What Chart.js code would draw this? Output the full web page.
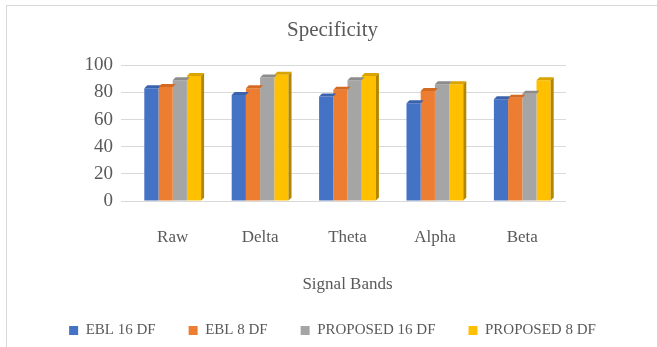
<!DOCTYPE html>
<html>
<head>
<meta charset="utf-8">
<script src="https://cdn.jsdelivr.net/npm/chart.js@4/dist/chart.umd.min.js"></script>
<style>
  html, body { margin: 0; padding: 0; background: #fff; }
  #wrap { position: absolute; left: 6px; top: 5px; width: 651px; height: 342px;
          border-left: 1px solid #d9d9d9; border-top: 1px solid #d9d9d9; }
</style>
</head>
<body>
<div id="wrap"><canvas id="bar-chart"></canvas></div>
<script>
var bands = ["Raw", "Delta", "Theta", "Alpha", "Beta"];
var ebl16 = [83, 78, 77, 72, 75];
var ebl8 = [84, 83, 82, 81, 76];
var prop16 = [89, 91, 89, 86, 79];
var prop8 = [92, 93, 92, 86, 89];
var yTicks = [0, 20, 40, 60, 80, 100];

var serif = "'Liberation Serif', 'DejaVu Serif', serif";

// fake the little 3D top / side faces from each bar element
var depthFaces = {
    id: 'depthFaces',
    afterDatasetsDraw: function (chart) {
        var c = chart.ctx;
        chart.data.datasets.forEach(function (ds, i) {
            chart.getDatasetMeta(i).data.forEach(function (bar) {
                var w = bar.width, x0 = bar.x - w / 2, x1 = bar.x + w / 2;
                var d = 3;
                c.save();
                c.fillStyle = ds.topColor;
                c.beginPath();
                c.moveTo(x0, bar.y);
                c.lineTo(x0 + d, bar.y - d);
                c.lineTo(x1 + d, bar.y - d);
                c.lineTo(x1, bar.y);
                c.fill();
                if (i === chart.data.datasets.length - 1) {
                    c.fillStyle = ds.sideColor;
                    c.beginPath();
                    c.moveTo(x1, bar.y);
                    c.lineTo(x1 + d, bar.y - d);
                    c.lineTo(x1 + d, bar.base - d);
                    c.lineTo(x1, bar.base);
                    c.fill();
                }
                c.restore();
            });
        });
    }
};

var ctx = document.getElementById("bar-chart");
var myChart = new Chart(ctx, {
    type: 'bar',
    data: {
        labels: bands,
        datasets: [{
            label: "EBL 16 DF", data: ebl16,
            backgroundColor: "#4472c4", topColor: "#3a62ad", sideColor: "#2f5597"
        }, {
            label: "EBL 8 DF", data: ebl8,
            backgroundColor: "#ed7d31", topColor: "#d46a22", sideColor: "#b85c1f"
        }, {
            label: "PROPOSED 16 DF", data: prop16,
            backgroundColor: "#a5a5a5", topColor: "#8c8c8c", sideColor: "#7f7f7f"
        }, {
            label: "PROPOSED 8 DF", data: prop8,
            backgroundColor: "#ffc000", topColor: "#d9a300", sideColor: "#b38600"
        }]
    },
    options: {
        responsive: true,
        maintainAspectRatio: false,
        animation: false,
        layout: { padding: { left: 0, right: 0, top: 6, bottom: 0 } },
        datasets: { bar: { categoryPercentage: 0.65, barPercentage: 1.0 } },
        plugins: {
            title: {
                display: true, text: 'Specificity', color: '#595959',
                font: { family: serif, size: 21, weight: 'normal' },
                padding: { top: 6, bottom: 22 }
            },
            legend: {
                position: 'bottom',
                // empty title with negative padding only pulls the row up a bit
                title: { display: true, text: ' ', font: { size: 1 }, padding: { top: -6, bottom: 0 } },
                labels: {
                    color: '#595959', boxWidth: 9, boxHeight: 9, padding: 33,
                    font: { family: serif, size: 15 }
                }
            },
            tooltip: { enabled: false }
        },
        scales: {
            x: {
                grid: { display: false, drawTicks: false },
                border: { display: false },
                ticks: { color: '#595959', padding: 26, font: { family: serif, size: 17 } },
                title: {
                    display: true, text: 'Signal Bands', color: '#595959',
                    font: { family: serif, size: 17 }, padding: { top: 1, bottom: 0 }
                }
            },
            y: {
                min: 0, max: 100,
                afterBuildTicks: function (axis) {
                    axis.ticks = yTicks.map(function (v) { return { value: v }; });
                },
                afterFit: function (axis) { axis.width = 122; },
                grid: { color: '#d9d9d9' },
                border: { display: false },
                ticks: { autoSkip: false, color: '#595959', padding: 8, font: { family: serif, size: 19 } }
            },
            spacer: {
                position: 'right', display: true,
                afterFit: function (axis) { axis.width = 92; },
                grid: { display: false },
                border: { display: false },
                ticks: { display: false }
            }
        }
    },
    plugins: [depthFaces]
});
</script>
</body>
</html>
